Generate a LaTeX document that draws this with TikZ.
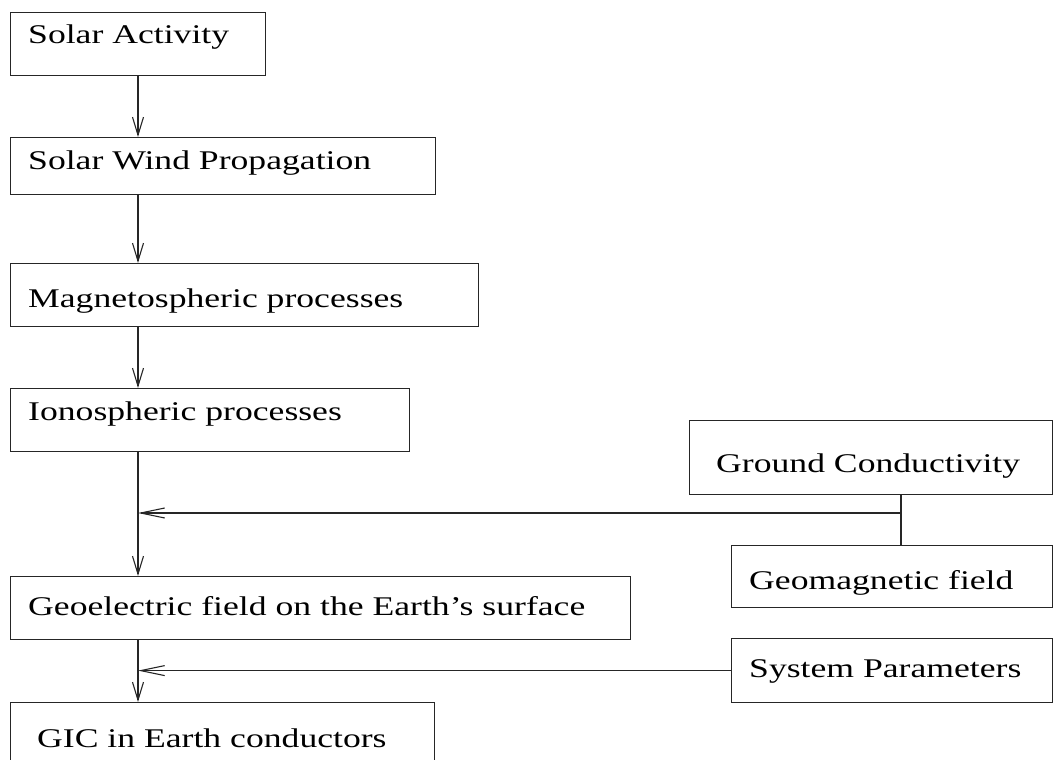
\documentclass[tikz,border=0pt]{standalone}
\usepackage{fontspec}
\usepackage{graphicx}
\setmainfont{Liberation Serif}
\usetikzlibrary{arrows.meta}
\tikzset{
  box/.style={draw=black!85, line width=1.2pt, rectangle, inner sep=0pt, anchor=north west},
  lbl/.style={inner sep=0pt, anchor=base west, font=\fontsize{27}{32}\selectfont},
  conn/.style={draw=black!85, line width=1.1pt},
  varr/.style={conn, -{Straight Barb[length=18pt,width=11pt]}},
  harr/.style={conn, -{Straight Barb[length=24pt,width=10pt]}},
}
\newcommand{\stretched}[1]{\scalebox{1.32}[1]{#1}}
\begin{document}
\begin{tikzpicture}[x=1pt,y=-1pt]
\useasboundingbox (0,0) rectangle (1053,760);
\clip (0,0) rectangle (1053,760);
% boxes
\node[box, minimum width=255pt, minimum height=63pt] (sa) at (10,12) {};
\node[box, minimum width=425pt, minimum height=57pt] (sw) at (10,137) {};
\node[box, minimum width=468pt, minimum height=63pt] (mp) at (10,263) {};
\node[box, minimum width=399pt, minimum height=63pt] (ip) at (10,388) {};
\node[box, minimum width=363pt, minimum height=74pt] (gc) at (689,420) {};
\node[box, minimum width=321pt, minimum height=62pt] (gm) at (731,545) {};
\node[box, minimum width=620pt, minimum height=63pt] (ge) at (10,576) {};
\node[box, minimum width=321pt, minimum height=64pt] (sp) at (731,638) {};
\node[box, minimum width=424pt, minimum height=80pt] (gic) at (10,702) {};
% labels
\node[lbl] (sat) at (28,44) {\stretched{Solar Activity}};
\node[lbl] (swt) at (28,169) {\stretched{Solar Wind Propagation}};
\node[lbl] (mpt) at (28,307) {\stretched{Magnetospheric processes}};
\node[lbl] (ipt) at (28,420) {\stretched{Ionospheric processes}};
\node[lbl] (gct) at (716,472) {\stretched{Ground Conductivity}};
\node[lbl] (gmt) at (749,589) {\stretched{Geomagnetic field}};
\node[lbl] (get) at (28,615) {\stretched{Geoelectric field on the Earth’s surface}};
\node[lbl] (spt) at (749,677) {\stretched{System Parameters}};
\node[lbl] (gict) at (37,747) {\stretched{GIC in Earth conductors}};
% connector guides
\coordinate (spine) at (138,0);
\coordinate (gcx) at (901,0);
\coordinate (j1) at (901,513);
% main chain
\draw[varr] (spine |- sa.south) -- (spine |- sw.north);
\draw[varr] (spine |- sw.south) -- (spine |- mp.north);
\draw[varr] (spine |- mp.south) -- (spine |- ip.north);
\draw[varr] (spine |- ip.south) -- (spine |- ge.north);
\draw[varr] (spine |- ge.south) -- (spine |- gic.north);
% side inputs
\draw[conn] (gcx |- gc.south) -- (gcx |- gm.north);
\draw[harr] (j1) -- (spine |- j1);
\draw[harr] (sp.west) -- (spine |- sp.west);
\end{tikzpicture}
\end{document}
